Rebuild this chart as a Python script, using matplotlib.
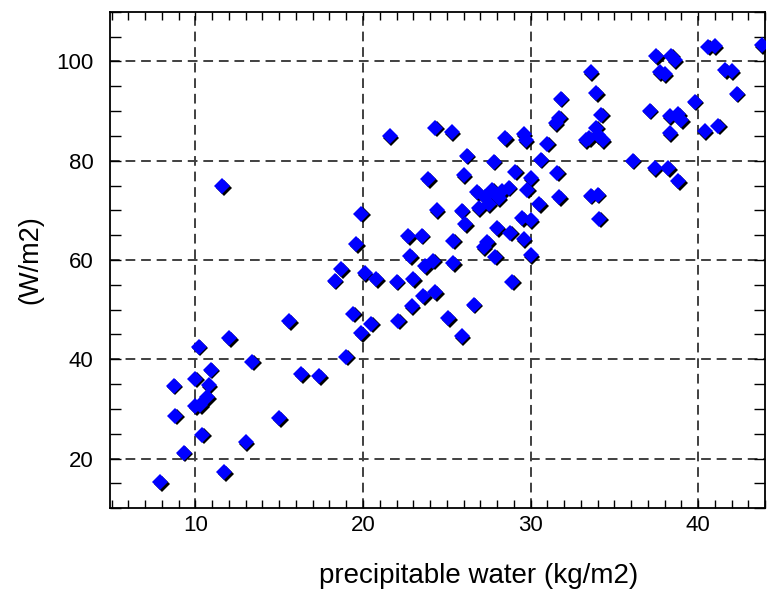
import numpy as np
import matplotlib
matplotlib.use("Agg")
import matplotlib.pyplot as plt
import matplotlib.transforms as mtransforms
from matplotlib.ticker import MultipleLocator

# precipitable water (kg/m2)
pw = [7.9, 8.7, 8.8, 9.3, 10.0, 10.2, 10.9, 10.8, 10.7, 10.3, 10.0, 10.4,
      12.0, 11.7, 13.0, 13.4, 15.0, 15.6, 16.3, 17.4, 11.6,
      19.0, 19.9, 19.4, 20.5, 18.3, 18.7, 19.6, 19.9, 20.1, 20.8, 22.0, 23.0,
      22.8, 22.7, 23.5, 23.7, 24.2, 22.1, 22.9, 23.6, 24.3, 21.6, 24.3, 23.9,
      24.4,
      25.1, 25.9, 26.6, 28.9, 25.4, 25.4, 25.9, 26.1, 27.4, 27.2, 28.0, 28.8,
      27.9, 29.6, 30.0, 29.5, 30.0, 26.2, 27.8, 29.1, 30.0, 30.6, 31.6, 31.7,
      30.5, 29.8, 26.0, 26.8, 27.7, 28.3, 28.7, 26.9, 27.5, 28.1, 27.3, 25.3,
      28.5, 29.6, 29.7, 31.0, 31.8, 31.5, 31.7,
      33.6, 33.9, 34.2, 33.9, 33.5, 34.0, 34.3, 33.3, 33.6, 34.0, 34.1, 36.1,
      37.1, 37.5, 38.4, 38.6, 37.7, 38.0, 38.3, 38.8, 39.0, 38.3, 37.4, 38.2,
      38.8, 39.8, 40.4, 41.2, 40.6, 41.0, 41.6, 42.0, 42.3, 43.8]

# flux (W/m2)
flux = [15.2, 34.7, 28.6, 21.2, 36.1, 42.5, 37.9, 34.8, 32.4, 30.8, 30.6, 24.8,
        44.2, 17.2, 23.3, 39.5, 28.1, 47.7, 37.0, 36.6, 74.9,
        40.5, 45.3, 49.2, 47.2, 55.8, 58.2, 63.2, 69.3, 57.4, 56.1, 55.6, 56.1,
        60.8, 64.8, 64.9, 58.8, 59.9, 47.8, 50.7, 52.7, 53.5, 85.0, 86.7, 76.3,
        70.0,
        48.3, 44.7, 51.0, 55.6, 59.4, 63.9, 69.9, 67.2, 63.6, 62.6, 66.4, 65.5,
        60.7, 64.2, 61.0, 68.4, 68.0, 81.0, 79.8, 77.8, 76.5, 80.2, 77.6, 72.6,
        71.3, 74.2, 77.1, 73.7, 74.2, 73.9, 74.6, 70.5, 71.3, 72.4, 72.7, 85.8,
        84.6, 85.4, 84.2, 83.4, 92.5, 87.6, 88.7,
        97.8, 93.6, 89.3, 86.7, 84.6, 85.2, 84.2, 84.2, 73.0, 73.2, 68.3, 80.0,
        90.1, 101.1, 101.2, 100.3, 97.9, 97.4, 89.0, 89.4, 88.2, 85.5, 78.5, 78.5,
        75.9, 91.9, 85.9, 87.1, 103.0, 103.1, 98.3, 98.0, 93.5, 103.3]

plt.rcParams['font.family'] = ['Liberation Sans', 'DejaVu Sans']

fig = plt.figure(figsize=(7.69, 5.93), dpi=100)
ax = fig.add_axes([0.143, 0.143, 0.852, 0.837])

ax.set_xlim(4.9, 44.0)
ax.set_ylim(10, 110)

ax.grid(True, which='major', color='#404040', linestyle=(0, (5, 3)), linewidth=1.4)
ax.set_axisbelow(True)

# black drop shadow under each diamond
shadow = mtransforms.offset_copy(ax.transData, fig=fig, x=1.6, y=-1.6, units='dots')
ax.plot(pw, flux, linestyle='none', marker='D', markersize=8.2,
        markeredgewidth=0, color='black', transform=shadow, zorder=3)
ax.plot(pw, flux, linestyle='none', marker='D', markersize=8.2,
        markeredgewidth=0, color='#0000ff', zorder=4)

ax.xaxis.set_major_locator(MultipleLocator(10))
ax.xaxis.set_minor_locator(MultipleLocator(1))
ax.yaxis.set_major_locator(MultipleLocator(20))
ax.yaxis.set_minor_locator(MultipleLocator(5))

ax.tick_params(axis='both', which='both', direction='in', top=True, right=True,
               width=1.0, colors='black')
ax.tick_params(axis='x', which='both', length=6, pad=5)
ax.tick_params(axis='y', which='both', length=8, pad=12)
ax.tick_params(labelsize=16)

for s in ax.spines.values():
    s.set_linewidth(1.3)

ax.set_xlabel("precipitable water (kg/m2)", fontsize=20)
ax.xaxis.set_label_coords(0.562, -0.111)
ax.set_ylabel("(W/m2)", fontsize=19.5)
ax.yaxis.set_label_coords(-0.102, 0.5)

fig.savefig("out.png", dpi=100)
